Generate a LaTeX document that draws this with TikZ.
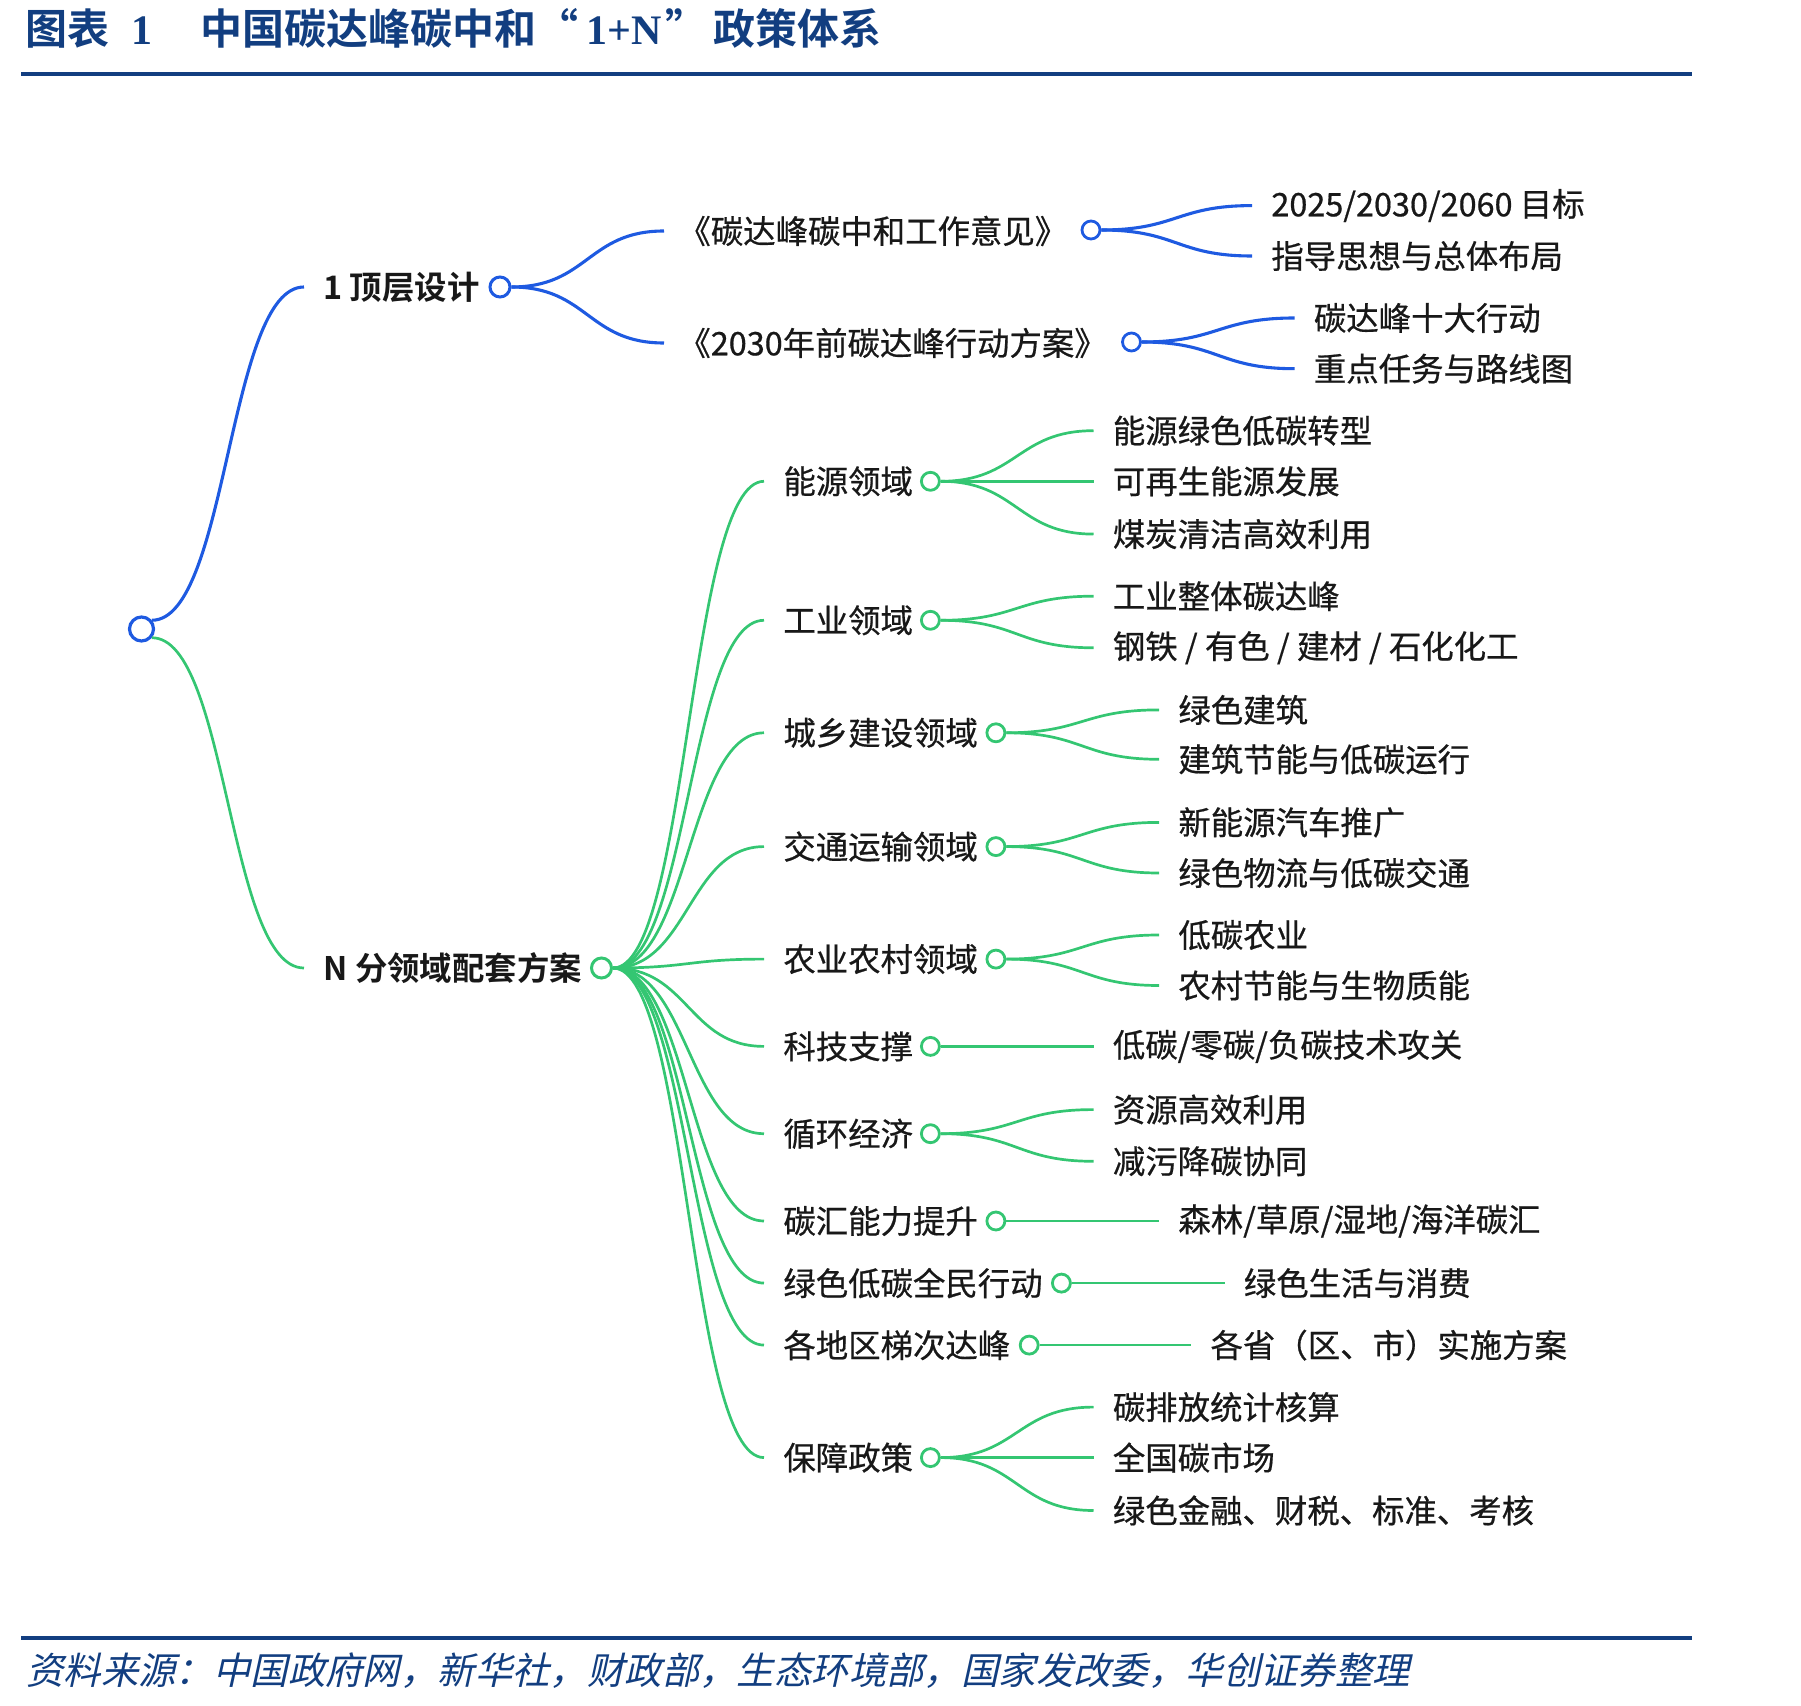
\documentclass[tikz,border=0pt]{standalone}
\usepackage{fontspec}
\setmainfont{Noto Sans CJK SC}[BoldFont={Noto Sans CJK SC Bold}]
\newfontfamily\labfont{Noto Sans CJK SC}[FakeBold=0.6]
\newfontfamily\serifL{Liberation Serif}
\newfontfamily\slantcjk{Noto Sans CJK SC}[FakeSlant=0.22]
\usetikzlibrary{calc}
\definecolor{navy}{RGB}{18,62,128}
\definecolor{blueL}{RGB}{30,90,225}
\definecolor{greenL}{RGB}{52,198,114}
\definecolor{txt}{RGB}{24,24,24}
\newcommand\hcurve[3]{\draw[#1] let \p1=(#2), \p2=(#3) in (\p1) .. controls ({0.5*\x1+0.5*\x2},\y1) and ({0.5*\x1+0.5*\x2},\y2) .. (\p2);}
\begin{document}
\begin{tikzpicture}[x=0.5pt,y=-0.5pt,
  lbl/.style={anchor=west, inner ysep=1pt, inner xsep=9.5pt, text=txt, font=\fontsize{16.2}{19}\labfont},
  lblb/.style={lbl, font=\fontsize{16.2}{19}\selectfont\bfseries},
  lblt/.style={lbl, inner xsep=7pt},
  bline/.style={draw=blueL, line width=1.55pt},
  gline/.style={draw=greenL, line width=1.35pt},
  rootdot/.style={circle, draw=blueL, fill=white, line width=1.6pt, inner sep=0pt, minimum size=12pt},
  bdot1/.style={circle, draw=blueL, fill=white, line width=1.5pt, inner sep=0pt, minimum size=10pt},
  gdot1/.style={circle, draw=greenL, fill=white, line width=1.5pt, inner sep=0pt, minimum size=10pt},
  bdot/.style={circle, draw=blueL, fill=white, line width=1.4pt, inner sep=0pt, minimum size=9pt},
  gdot/.style={circle, draw=greenL, fill=white, line width=1.4pt, inner sep=0pt, minimum size=9pt},
  rule/.style={draw=navy, line width=2.1pt}
]
\useasboundingbox (0,0) rectangle (1801,1706);
% title and rules
\node[anchor=west, inner sep=0pt, text=navy, font=\fontsize{21}{24}\selectfont\bfseries] (title) at (25,28)
  {图表\hspace{11pt}{\serifL\bfseries 1}\hspace{24pt}中国碳达峰碳中和“\hspace{4pt}{\serifL\bfseries 1+N}\hspace{2pt}”\hspace{3pt}政策体系};
\coordinate (r1a) at (21,74); \coordinate (r1b) at (1692,74);
\draw[rule] (r1a) -- (r1b);
\coordinate (r2a) at (21,1638); \coordinate (r2b) at (1692,1638);
\draw[rule] (r2a) -- (r2b);
\node[anchor=west, inner sep=0pt, text=navy, font=\fontsize{18.7}{22}\slantcjk] (src) at (26,1671)
  {资料来源：中国政府网，新华社，财政部，生态环境部，国家发改委，华创证券整理};

% root
\node[rootdot] (root) at (141.5,629) {};
% level 1
\node[lblb] (l1) at (304,287) {1 顶层设计};
\node[bdot1] (c1) at (500,287) {};
\node[lblb] (lN) at (304,968) {N 分领域配套方案};
\node[gdot1] (cN) at (601.5,968) {};
\hcurve{bline}{root.40}{l1.west}
\hcurve{gline}{root.-40}{lN.west}

% top design
\node[lblt] (ta) at (664,231) {《碳达峰碳中和工作意见》};
\node[bdot] (ca) at (1091,230) {};
\node[lblt] (tb) at (664,343) {《2030年前碳达峰行动方案》};
\node[bdot] (cb) at (1131.5,342) {};
\hcurve{bline}{c1.east}{ta.west}
\hcurve{bline}{c1.east}{tb.west}
\node[lbl] (ga1) at (1252,205.6) {2025/2030/2060 目标};
\node[lbl] (ga2) at (1252,256) {指导思想与总体布局};
\node[lbl] (gb1) at (1294.5,318) {碳达峰十大行动};
\node[lbl] (gb2) at (1294.5,368.7) {重点任务与路线图};
\hcurve{bline}{ca.east}{ga1.west}
\hcurve{bline}{ca.east}{ga2.west}
\hcurve{bline}{cb.east}{gb1.west}
\hcurve{bline}{cb.east}{gb2.west}

% N children
\node[lbl] (ne) at (764,481.3) {能源领域};        \node[gdot] (ce) at (930.4,481.3) {};
\node[lbl] (ni) at (764,620.3) {工业领域};        \node[gdot] (ci) at (930.4,620.3) {};
\node[lbl] (nu) at (764,732.8) {城乡建设领域};    \node[gdot] (cu) at (995.9,732.8) {};
\node[lbl] (nt) at (764,846.6) {交通运输领域};    \node[gdot] (ct) at (995.9,846.6) {};
\node[lbl] (na) at (764,959.1) {农业农村领域};    \node[gdot] (ca2) at (995.9,959.1) {};
\node[lbl] (ns) at (764,1046.4) {科技支撑};       \node[gdot] (cs) at (930.4,1046.4) {};
\node[lbl] (nr) at (764,1133.7) {循环经济};       \node[gdot] (cr) at (930.4,1133.7) {};
\node[lbl] (nk) at (764,1221) {碳汇能力提升};     \node[gdot] (ck) at (995.9,1221) {};
\node[lbl] (ng) at (764,1283.1) {绿色低碳全民行动}; \node[gdot] (cg) at (1061.4,1283.1) {};
\node[lbl] (nd) at (764,1345.1) {各地区梯次达峰};   \node[gdot] (cd) at (1029.2,1345.1) {};
\node[lbl] (np) at (764,1457.6) {保障政策};       \node[gdot] (cp) at (930.4,1457.6) {};
\foreach \nm in {ne,ni,nu,nt,na,ns,nr,nk,ng,nd,np}{\hcurve{gline}{cN.east}{\nm.west}}

% grandchildren
\node[lbl] (e1) at (1093.5,430.7) {能源绿色低碳转型};
\node[lbl] (e2) at (1093.5,481.3) {可再生能源发展};
\node[lbl] (e3) at (1093.5,534.1) {煤炭清洁高效利用};
\foreach \nm in {e1,e2,e3}{\hcurve{gline}{ce.east}{\nm.west}}
\node[lbl] (i1) at (1093.5,596.2) {工业整体碳达峰};
\node[lbl] (i2) at (1093.5,647.8) {钢铁 / 有色 / 建材 / 石化化工};
\foreach \nm in {i1,i2}{\hcurve{gline}{ci.east}{\nm.west}}
\node[lbl] (u1) at (1159,709.9) {绿色建筑};
\node[lbl] (u2) at (1159,759.3) {建筑节能与低碳运行};
\foreach \nm in {u1,u2}{\hcurve{gline}{cu.east}{\nm.west}}
\node[lbl] (t1) at (1159,822.4) {新能源汽车推广};
\node[lbl] (t2) at (1159,873) {绿色物流与低碳交通};
\foreach \nm in {t1,t2}{\hcurve{gline}{ct.east}{\nm.west}}
\node[lbl] (a1) at (1159,935) {低碳农业};
\node[lbl] (a2) at (1159,985.5) {农村节能与生物质能};
\foreach \nm in {a1,a2}{\hcurve{gline}{ca2.east}{\nm.west}}
\node[lbl] (s1) at (1093.5,1046.4) {低碳/零碳/负碳技术攻关};
\draw[gline] (cs.east) -- (s1.west);
\node[lbl] (r1) at (1093.5,1109.6) {资源高效利用};
\node[lbl] (r2) at (1093.5,1161.3) {减污降碳协同};
\foreach \nm in {r1,r2}{\hcurve{gline}{cr.east}{\nm.west}}
\node[lbl] (k1) at (1159,1221) {森林/草原/湿地/海洋碳汇};
\draw[gline] (ck.east) -- (k1.west);
\node[lbl] (g1) at (1224.5,1283.1) {绿色生活与消费};
\draw[gline] (cg.east) -- (g1.west);
\node[lbl] (d1) at (1191.2,1345.1) {各省（区、市）实施方案};
\draw[gline] (cd.east) -- (d1.west);
\node[lbl] (p1) at (1093.5,1407.1) {碳排放统计核算};
\node[lbl] (p2) at (1093.5,1457.6) {全国碳市场};
\node[lbl] (p3) at (1093.5,1510.5) {绿色金融、财税、标准、考核};
\foreach \nm in {p1,p2,p3}{\hcurve{gline}{cp.east}{\nm.west}}
\end{tikzpicture}
\end{document}
